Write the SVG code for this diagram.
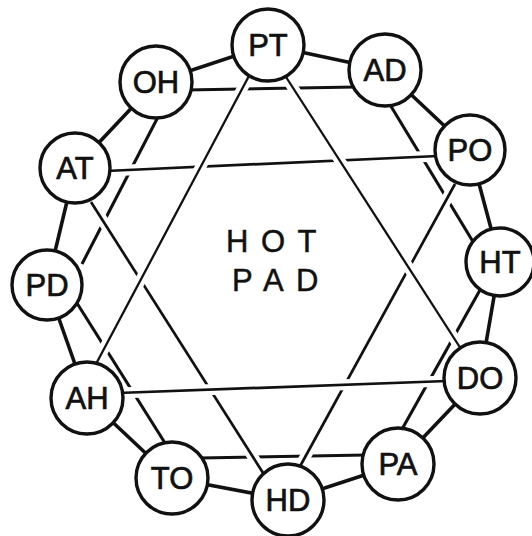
<svg xmlns="http://www.w3.org/2000/svg" width="532" height="536" viewBox="0 0 532 536">
<style>
.ring{stroke:#111;stroke-width:3.6;fill:none}
.chord{stroke:#111;stroke-width:3.1;fill:none}
.star{stroke:#111;stroke-width:2.7;fill:none}
.thin{stroke:#111;stroke-width:2.3;fill:none}
.halo{stroke:#fff;stroke-width:11;fill:none}
.node circle{fill:#fff;stroke:#111;stroke-width:3.4}
.node text{font-family:"Liberation Sans","Arial",sans-serif;font-size:31px;fill:#111;stroke:#111;stroke-width:0.7;text-anchor:middle}
.title{font-family:"Liberation Sans","Arial",sans-serif;font-size:31px;fill:#111;stroke:#111;stroke-width:0.5;letter-spacing:12.5px}
</style>
<rect width="532" height="536" fill="#fff"/>
<g id="connectors">
  <line class="chord" x1="186" y1="90" x2="356" y2="87"/>
  <line class="chord" x1="389" y1="103" x2="475" y2="245"/>
  <line class="chord" x1="480" y1="290" x2="401" y2="431"/>
  <line class="chord" x1="366" y1="455" x2="200" y2="458"/>
  <line class="chord" x1="165" y1="443" x2="75" y2="300"/>
  <line class="chord" x1="82" y1="264" x2="159" y2="115"/>
  <line class="ring" x1="268" y1="45" x2="385" y2="70"/>
  <line class="ring" x1="385" y1="70" x2="470" y2="150"/>
  <line class="ring" x1="470" y1="150" x2="500" y2="262"/>
  <line class="ring" x1="500" y1="262" x2="480" y2="378"/>
  <line class="ring" x1="480" y1="378" x2="398" y2="464"/>
  <line class="ring" x1="398" y1="464" x2="288" y2="500"/>
  <line class="ring" x1="288" y1="500" x2="172" y2="478"/>
  <line class="ring" x1="172" y1="478" x2="87" y2="398"/>
  <line class="ring" x1="87" y1="398" x2="47" y2="285"/>
  <line class="ring" x1="47" y1="285" x2="75" y2="168"/>
  <line class="ring" x1="75" y1="168" x2="156" y2="82"/>
  <line class="ring" x1="156" y1="82" x2="268" y2="45"/>
  <line class="halo" x1="106" y1="171" x2="438" y2="156"/>
  <line class="halo" x1="91" y1="202" x2="265" y2="476"/>
  <line class="halo" x1="455" y1="184" x2="298" y2="470"/>
  <line class="star" x1="106" y1="171" x2="438" y2="156"/>
  <line class="star" x1="91" y1="202" x2="265" y2="476"/>
  <line class="star" x1="455" y1="184" x2="298" y2="470"/>
  <line class="halo" x1="250" y1="74" x2="96" y2="364"/>
  <line class="halo" x1="286" y1="77" x2="461" y2="349"/>
  <line class="halo" x1="118" y1="393" x2="447" y2="381"/>
  <line class="thin" x1="250" y1="74" x2="96" y2="364"/>
  <line class="thin" x1="286" y1="77" x2="461" y2="349"/>
  <line class="star" x1="118" y1="393" x2="447" y2="381"/>
</g>
<g id="node-PT" class="node"><circle cx="268" cy="45" r="36"/><text x="268" y="56">PT</text></g>
<g id="node-AD" class="node"><circle cx="385" cy="70" r="36"/><text x="385" y="81">AD</text></g>
<g id="node-PO" class="node"><circle cx="470" cy="150" r="35"/><text x="470" y="161">PO</text></g>
<g id="node-HT" class="node"><circle cx="500" cy="262" r="34"/><text x="500" y="273">HT</text></g>
<g id="node-DO" class="node"><circle cx="480" cy="378" r="36"/><text x="480" y="389">DO</text></g>
<g id="node-PA" class="node"><circle cx="398" cy="464" r="36"/><text x="398" y="475">PA</text></g>
<g id="node-HD" class="node"><circle cx="288" cy="500" r="36"/><text x="288" y="511">HD</text></g>
<g id="node-TO" class="node"><circle cx="172" cy="478" r="36"/><text x="172" y="489">TO</text></g>
<g id="node-AH" class="node"><circle cx="87" cy="398" r="36"/><text x="87" y="409">AH</text></g>
<g id="node-PD" class="node"><circle cx="47" cy="285" r="35"/><text x="47" y="296">PD</text></g>
<g id="node-AT" class="node"><circle cx="75" cy="168" r="35"/><text x="75" y="179">AT</text></g>
<g id="node-OH" class="node"><circle cx="156" cy="82" r="36"/><text x="156" y="93">OH</text></g>
<g id="center-label">
  <text class="title" x="226" y="252">HOT</text>
  <text class="title" x="232" y="291">PAD</text>
</g>
</svg>
